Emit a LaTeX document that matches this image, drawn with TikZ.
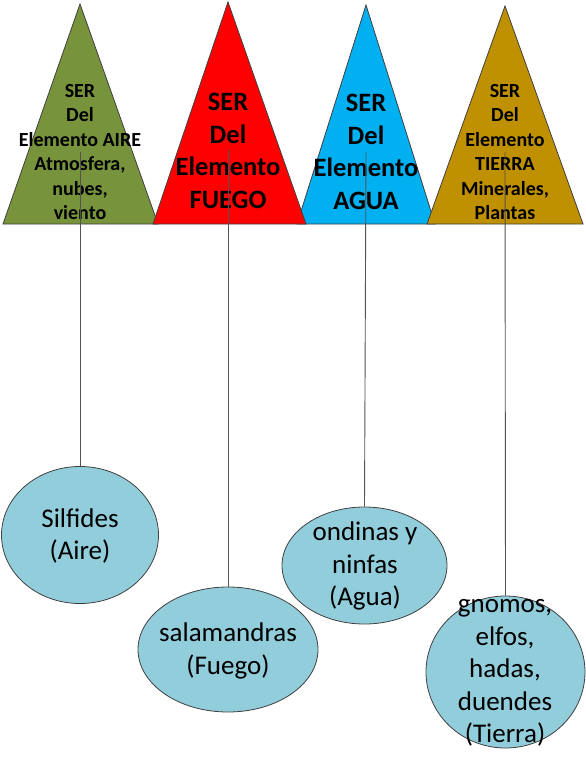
\documentclass[tikz,border=0pt]{standalone}
\usepackage{fontspec}
\setmainfont{Carlito}
\usetikzlibrary{shapes.geometric}
\definecolor{cAire}{HTML}{77933C}
\definecolor{cFuego}{HTML}{FF0000}
\definecolor{cAgua}{HTML}{00B0F0}
\definecolor{cTierra}{HTML}{BF9000}
\definecolor{cBlob}{HTML}{92CDDC}
\definecolor{cEdge}{HTML}{404040}
\tikzset{
  tri/.style={draw=cEdge, line width=0.8pt},
  blob/.style={ellipse, draw=cEdge, line width=0.8pt, fill=cBlob, inner sep=0pt},
  smalltxt/.style={align=center, font=\fontsize{20}{24.5}\selectfont\bfseries, inner sep=0pt},
  bigtxt/.style={align=center, font=\fontsize{26.5}{32.5}\selectfont\bfseries, inner sep=0pt},
  etxt/.style={align=center, font=\fontsize{27}{32.5}\selectfont, inner sep=0pt},
  link/.style={draw=cEdge!90, line width=0.9pt}
}
\begin{document}
\begin{tikzpicture}[x=1pt,y=-1pt]
\useasboundingbox (0,0) rectangle (586,768);
% triangles
\fill[cAgua, tri] (366,5) -- (297,224) -- (435,224) -- cycle;
\fill[cAire, tri] (80,4) -- (3,224) -- (158,224) -- cycle;
\fill[cFuego, tri] (228,2) -- (153,224) -- (306,224) -- cycle;
\fill[cTierra, tri] (505,6) -- (427,224) -- (583,224) -- cycle;
% triangle texts
\node[smalltxt] (t1) at (80,152) {SER\\Del\\Elemento AIRE\\Atmosfera,\\nubes,\\viento};
\node[bigtxt] (t2) at (228,151) {SER\\Del\\Elemento\\FUEGO};
\node[bigtxt] (t3) at (366,152) {SER\\Del\\Elemento\\AGUA};
\node[smalltxt] (t4) at (505,152) {SER\\Del\\Elemento\\TIERRA\\Minerales,\\Plantas};
\coordinate (s1) at (80,152);
\coordinate (s2) at (228,150);
\coordinate (s3) at (366,152);
\coordinate (s4) at (505,152);
% ellipses
\node[blob, minimum width=157, minimum height=137] (e1) at (80,535) {};
\node[blob, minimum width=180, minimum height=125] (e2) at (228,649.5) {};
\node[blob, minimum width=165, minimum height=117] (e3) at (364.5,565.5) {};
\node[blob, minimum width=159, minimum height=152] (e4) at (505.5,672) {};
\node[etxt] (l1) at (80,536) {Silfides\\(Aire)};
\node[etxt] (l2) at (228,651) {salamandras\\(Fuego)};
\node[etxt] (l3) at (365,566) {ondinas y\\ninfas\\(Agua)};
\node[etxt] (l4) at (505,673) {gnomos,\\elfos,\\hadas,\\duendes\\(Tierra)};
% connectors
\draw[link] (s1) -- (e1.north);
\draw[link] (s2) -- (e2.north);
\draw[link] (s3) -- (e3.north);
\draw[link] (s4) -- (e4.north);
\end{tikzpicture}
\end{document}
